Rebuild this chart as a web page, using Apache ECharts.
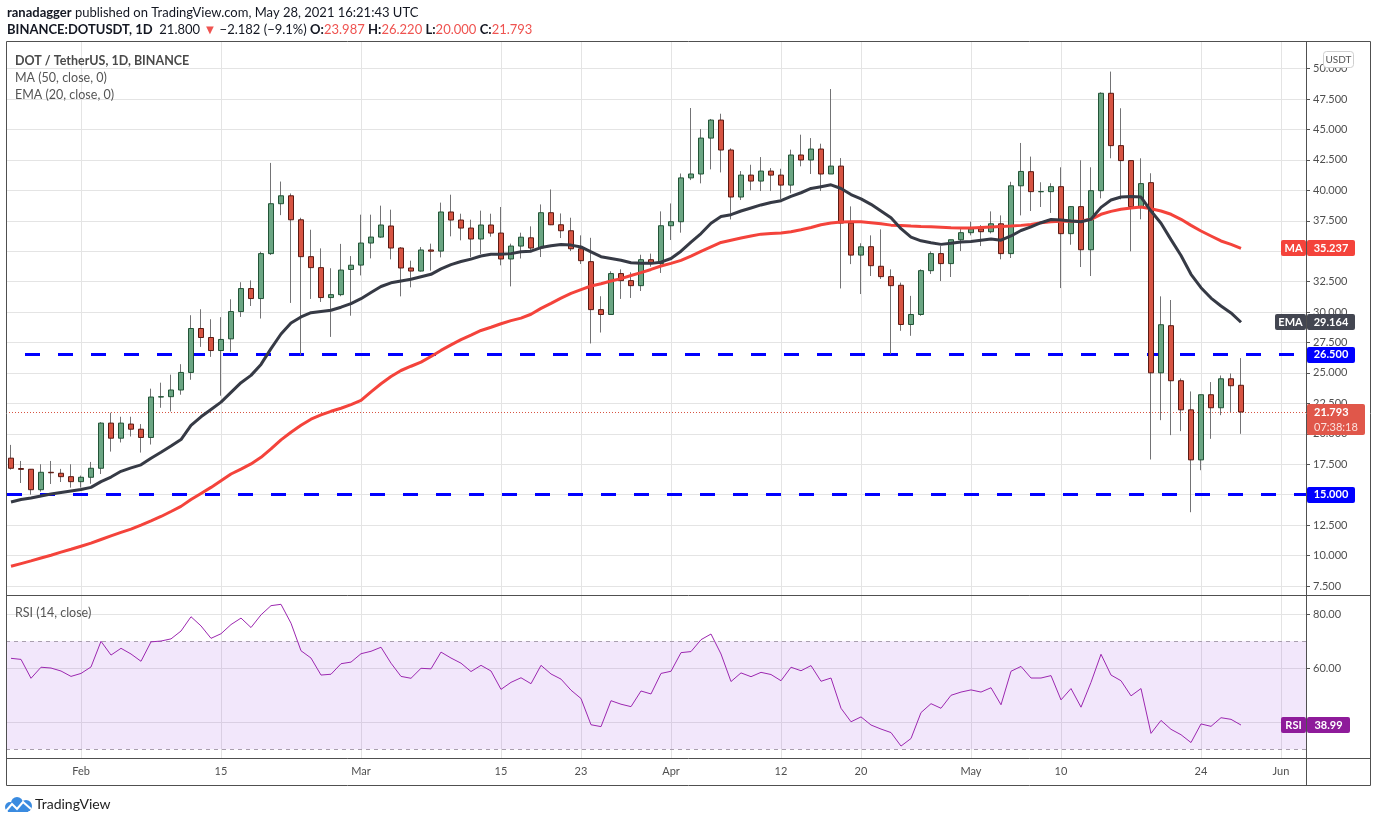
<!DOCTYPE html>
<html>
<head>
<meta charset="utf-8">
<title>DOT / TetherUS, 1D, BINANCE</title>
<script src="https://cdn.jsdelivr.net/npm/echarts@6/dist/echarts.min.js"></script>
<style>
    html, body { margin: 0; padding: 0; background: #fff; }
    #main { width: 1376px; height: 823px; }
</style>
</head>
<body>
<div id="main"></div>
<script>
// DOT/USDT daily candles, 25 Jan - 28 May 2021
var startDay = Date.UTC(2021, 0, 25);
var padDays = 6; // empty days on the right, like the TradingView margin

var opens = [18.0, 17.15, 17.09, 15.41, 16.84, 16.76, 16.48, 16.07, 16.43, 17.17,
    20.88, 19.64, 20.8, 20.38, 19.7, 23.02, 23.05, 23.6, 25.04, 28.65,
    27.91, 26.84, 27.8, 30.04, 31.93, 31.11, 34.8, 38.9, 39.55, 37.58,
    34.55, 33.65, 31.19, 31.43, 33.5, 33.86, 35.67, 36.16, 37.07, 35.26,
    33.62, 33.37, 35.1, 35.01, 38.22, 37.56, 36.9, 36.0, 37.15, 36.49,
    34.36, 35.42, 36.1, 35.26, 38.16, 37.17, 36.68, 35.2, 34.14, 30.2,
    29.8, 33.16, 32.58, 32.17, 34.3, 33.98, 37.09, 37.42, 41.02, 41.34,
    44.29, 45.77, 43.31, 39.45, 41.25, 40.76, 41.58, 41.25, 40.43, 42.9,
    42.49, 43.39, 41.34, 41.99, 37.31, 34.68, 35.37, 33.76, 32.91, 32.2,
    28.98, 29.8, 33.4, 34.8, 33.98, 35.94, 36.52, 36.84, 36.6, 37.25,
    34.8, 40.37, 41.53, 39.88, 39.89, 40.3, 36.44, 38.66, 35.12, 39.97,
    47.97, 43.67, 42.44, 38.66, 40.63, 25.01, 28.88, 24.36, 21.97, 17.86,
    23.21, 22.14, 24.52, 23.987];
var closes = [17.17, 17.08, 15.41, 16.84, 16.8, 16.48, 16.07, 16.43, 17.17, 20.88,
    19.64, 20.88, 20.38, 19.7, 23.02, 23.05, 23.6, 25.04, 28.65, 27.91,
    26.84, 27.75, 30.04, 31.93, 31.11, 34.8, 38.9, 39.55, 37.58, 34.55,
    33.65, 31.19, 31.43, 33.45, 33.85, 35.67, 36.16, 37.15, 35.26, 33.62,
    33.37, 35.1, 35.0, 38.22, 37.56, 36.9, 36.0, 37.15, 36.49, 34.36,
    35.42, 36.15, 35.26, 38.16, 37.17, 36.68, 35.2, 34.22, 30.2, 29.8,
    33.16, 32.58, 32.17, 34.3, 33.98, 37.09, 37.42, 41.02, 41.34, 44.29,
    45.77, 43.31, 39.45, 41.25, 40.76, 41.58, 41.25, 40.43, 42.9, 42.49,
    43.39, 41.34, 41.99, 37.31, 34.68, 35.36, 33.81, 32.91, 32.17, 28.98,
    29.8, 33.4, 34.8, 33.98, 35.94, 36.52, 36.84, 36.6, 37.25, 34.8,
    40.37, 41.55, 39.89, 39.9, 40.3, 36.44, 38.66, 35.12, 39.97, 47.97,
    43.67, 42.44, 38.66, 40.55, 25.01, 28.96, 24.36, 21.97, 17.86, 23.21,
    22.14, 24.52, 23.95, 21.793];
var highs = [19.09, 17.77, 17.1, 17.5, 17.77, 17.12, 17.5, 16.57, 17.69, 20.96,
    21.73, 21.4, 21.4, 20.8, 23.71, 24.2, 24.86, 25.72, 29.74, 30.23,
    29.41, 29.58, 31.05, 32.45, 32.6, 34.96, 42.25, 40.72, 39.74, 37.75,
    36.76, 35.23, 33.6, 35.6, 34.6, 38.0, 38.0, 38.74, 38.41, 35.34,
    34.22, 35.34, 35.62, 38.99, 39.64, 38.08, 37.59, 38.33, 38.08, 38.63,
    35.62, 36.52, 37.04, 38.84, 40.07, 38.1, 37.75, 36.3, 36.1, 31.3,
    33.35, 33.51, 33.27, 34.71, 34.8, 38.27, 38.92, 41.38, 46.76, 45.03,
    45.86, 46.29, 43.45, 41.58, 42.1, 42.73, 41.83, 41.77, 43.34, 44.57,
    44.29, 43.83, 48.32, 42.65, 38.68, 35.65, 36.3, 36.79, 33.51, 32.42,
    31.33, 33.51, 34.99, 35.42, 35.94, 36.87, 37.42, 37.14, 38.27, 37.94,
    40.7, 43.89, 42.77, 40.66, 40.58, 41.89, 38.7, 42.47, 41.89, 48.05,
    49.75, 46.74, 42.44, 42.63, 41.4, 31.29, 30.99, 24.55, 23.48, 23.21,
    24.25, 24.79, 24.96, 26.22];
var lows = [17.06, 15.96, 15.0, 15.25, 15.88, 16.04, 15.58, 15.58, 15.9, 16.7,
    18.54, 19.29, 19.78, 18.46, 19.12, 22.14, 21.84, 23.21, 24.44, 27.14,
    26.32, 23.13, 26.73, 29.6, 30.5, 29.47, 34.69, 37.96, 30.75, 26.46,
    31.08, 30.83, 27.96, 31.3, 29.7, 33.01, 34.41, 36.1, 34.33, 31.29,
    32.03, 33.32, 33.4, 34.49, 36.22, 35.89, 34.49, 34.77, 36.19, 33.84,
    32.11, 34.4, 34.93, 34.52, 37.14, 36.08, 35.01, 33.95, 27.42, 28.32,
    29.77, 31.08, 31.16, 31.73, 33.73, 33.21, 35.92, 36.52, 40.84, 40.57,
    41.72, 41.47, 37.61, 39.2, 40.0, 39.94, 39.94, 39.28, 39.75, 41.97,
    41.34, 39.94, 41.34, 31.94, 33.94, 31.48, 32.96, 32.72, 26.54, 28.46,
    28.05, 29.69, 33.13, 32.55, 32.88, 35.01, 36.3, 35.42, 36.46, 34.33,
    34.44, 37.94, 38.3, 38.63, 38.14, 31.97, 35.53, 33.7, 32.96, 39.34,
    42.63, 39.26, 34.99, 37.62, 17.89, 21.12, 19.89, 20.22, 13.56, 17.01,
    19.59, 21.53, 21.78, 20.0];

// MA (50, close) and EMA (20, close) as drawn on the chart
var ma50 = [9.12, 9.34, 9.56, 9.8, 10.03, 10.28, 10.52, 10.77, 11.02, 11.32,
    11.62, 11.9, 12.17, 12.5, 12.85, 13.21, 13.62, 14.04, 14.6, 15.1,
    15.6, 16.15, 16.7, 17.1, 17.53, 18.07, 18.76, 19.5, 20.13, 20.7,
    21.2, 21.55, 21.85, 22.1, 22.4, 22.74, 23.45, 24.11, 24.7, 25.2,
    25.55, 25.89, 26.35, 26.85, 27.3, 27.73, 28.1, 28.49, 28.75, 29.04,
    29.3, 29.5, 29.82, 30.3, 30.72, 31.15, 31.54, 31.85, 32.14, 32.33,
    32.55, 32.75, 33.0, 33.24, 33.5, 33.78, 34.0, 34.25, 34.6, 34.98,
    35.35, 35.72, 35.9, 36.08, 36.25, 36.4, 36.45, 36.49, 36.6, 36.76,
    36.95, 37.17, 37.31, 37.39, 37.41, 37.42, 37.34, 37.25, 37.14, 37.1,
    37.06, 37.03, 37.01, 36.97, 36.93, 36.9, 36.9, 36.94, 36.98, 37.02,
    37.06, 37.12, 37.2, 37.34, 37.42, 37.45, 37.45, 37.48, 37.62, 38.03,
    38.27, 38.44, 38.55, 38.63, 38.49, 38.3, 38.03, 37.62, 37.12, 36.66,
    36.25, 35.84, 35.56, 35.237];
var ema20 = [14.4, 14.6, 14.73, 14.9, 15.05, 15.18, 15.3, 15.42, 15.6, 16.07,
    16.45, 16.92, 17.2, 17.45, 18.0, 18.49, 19.0, 19.53, 20.7, 21.4,
    22.0, 22.6, 23.4, 24.2, 24.8, 25.7, 27.0, 28.2, 29.1, 29.6,
    29.95, 30.05, 30.15, 30.4, 30.7, 31.1, 31.6, 32.1, 32.4, 32.55,
    32.7, 32.9, 33.1, 33.55, 33.9, 34.15, 34.35, 34.6, 34.75, 34.75,
    34.8, 34.95, 35.0, 35.3, 35.45, 35.55, 35.5, 35.35, 34.95, 34.55,
    34.4, 34.25, 34.05, 34.0, 34.0, 34.1, 34.4, 35.0, 35.75, 36.45,
    37.3, 37.85, 38.0, 38.3, 38.55, 38.8, 39.0, 39.15, 39.5, 39.8,
    40.15, 40.3, 40.45, 40.15, 39.65, 39.3, 38.85, 38.3, 37.75, 36.85,
    36.15, 35.85, 35.7, 35.56, 35.65, 35.75, 35.8, 35.9, 36.0, 35.9,
    36.25, 36.7, 37.0, 37.34, 37.6, 37.56, 37.48, 37.42, 37.62, 38.6,
    39.2, 39.45, 39.5, 39.45, 38.3, 37.3, 35.95, 34.65, 33.1, 32.0,
    31.15, 30.5, 29.93, 29.164];

// RSI (14, close)
var rsi14 = [63.7, 63.3, 56.3, 60.4, 60.1, 59.0, 57.0, 58.1, 60.5, 70.0,
    64.9, 67.4, 65.3, 62.6, 69.8, 70.1, 70.9, 73.8, 79.1, 75.7,
    71.1, 72.8, 76.2, 78.6, 75.1, 79.8, 83.2, 83.7, 76.7, 66.5,
    63.8, 57.5, 57.8, 61.7, 62.3, 65.4, 66.3, 67.8, 61.9, 57.0,
    56.3, 60.0, 59.8, 66.0, 63.8, 61.9, 58.8, 61.1, 59.0, 52.2,
    54.8, 56.5, 54.3, 61.1, 57.9, 56.0, 51.9, 48.8, 39.1, 38.4,
    48.0, 46.7, 45.8, 51.6, 50.5, 58.1, 58.9, 65.8, 66.2, 70.6,
    72.7, 65.3, 55.1, 58.3, 56.9, 58.5, 57.7, 55.4, 60.4, 59.1,
    61.0, 55.2, 56.4, 45.2, 40.2, 42.0, 39.0, 37.5, 36.2, 31.2,
    34.0, 43.6, 46.9, 45.2, 50.0, 51.2, 52.0, 51.2, 52.8, 46.5,
    58.9, 60.7, 56.4, 56.4, 57.3, 48.3, 52.5, 45.6, 54.8, 65.2,
    57.5, 55.4, 49.8, 52.5, 35.9, 40.7, 37.4, 35.4, 32.5, 39.4,
    38.5, 41.7, 41.1, 38.99];

var levels = [26.5, 15.0];                // blue dashed horizontals
var priceTicks = [7.5, 10, 12.5, 15, 17.5, 20, 22.5, 25, 27.5, 30, 32.5, 35, 37.5, 40, 42.5, 45, 47.5, 50];
var rsiTicks = [40, 60, 80];
var rsiBand = [30, 70];
var dateTickIdx = [7, 21, 35, 49, 57, 66, 77, 85, 96, 105, 119, 127];
var dateTickLabels = ['Feb', '15', 'Mar', '15', '23', 'Apr', '12', '20', 'May', '10', '24', 'Jun'];

var FONT = 'Lato, "Open Sans", sans-serif';
var GRID = '#e4e4e4';
var AXIS_TXT = '#4f4f4f';
var UP = '#6ba583', DOWN = '#d75442';

var dates = [];
for (var i = 0; i < opens.length + padDays; i++) {
    dates.push(new Date(startDay + i * 86400000).toISOString().slice(0, 10));
}
var nCat = dates.length;

// full candle for the grey wicks, body-only candle for the coloured boxes
var wickData = opens.map(function (o, i) { return [o, closes[i], lows[i], highs[i]]; });
var bodyData = opens.map(function (o, i) {
    return [o, closes[i], Math.min(o, closes[i]), Math.max(o, closes[i])];
});

var chart = echarts.init(document.getElementById('main'));

function dateLabel(v) {
    var i = dateTickIdx.indexOf(Math.round(v));
    return i < 0 ? '' : dateTickLabels[i];
}

var option = {
    animation: false,
    backgroundColor: '#ffffff',
    textStyle: { fontFamily: FONT },
    grid: [
        { left: 6, top: 41, width: 1300, height: 554, outerBoundsMode: 'none', containLabel: false },
        { left: 6, top: 596, width: 1300, height: 162, outerBoundsMode: 'none', containLabel: false }
    ],
    xAxis: [
        { type: 'category', gridIndex: 0, data: dates, position: 'bottom', show: false, boundaryGap: true,
            axisLine: { onZero: false } },
        {
            type: 'value', gridIndex: 0, position: 'top', min: -0.5, max: nCat - 0.5,
            axisLine: { show: false, onZero: false },
            axisTick: { show: false, customValues: dateTickIdx },
            axisLabel: { show: false, customValues: dateTickIdx },
            splitLine: { show: true, lineStyle: { color: GRID, width: 1 } }
        },
        { type: 'category', gridIndex: 1, data: dates, position: 'top', show: false, boundaryGap: true,
            axisLine: { onZero: false } },
        {
            type: 'value', gridIndex: 1, position: 'bottom', min: -0.5, max: nCat - 0.5,
            axisLine: { show: false, onZero: false },
            axisTick: { show: false, customValues: dateTickIdx },
            axisLabel: {
                customValues: dateTickIdx, formatter: dateLabel, color: AXIS_TXT,
                fontSize: 11, fontFamily: FONT, margin: 8
            },
            splitLine: { show: true, lineStyle: { color: GRID, width: 1 } }
        }
    ],
    yAxis: [
        {
            type: 'value', gridIndex: 0, position: 'right', min: 6.761, max: 52.264,
            axisLine: { show: false, onZero: false },
            axisTick: { show: true, length: 4, customValues: priceTicks, lineStyle: { color: '#555' } },
            axisLabel: {
                customValues: priceTicks, color: AXIS_TXT, fontSize: 11, fontFamily: FONT, margin: 7,
                formatter: function (v) { return v.toFixed(3); }
            },
            splitLine: { show: true, lineStyle: { color: GRID, width: 1 } }
        },
        {
            type: 'value', gridIndex: 1, position: 'right', min: 26.78, max: 86.78,
            axisLine: { show: false, onZero: false },
            axisTick: { show: true, length: 4, customValues: rsiTicks, lineStyle: { color: '#555' } },
            axisLabel: {
                customValues: rsiTicks, color: AXIS_TXT, fontSize: 11, fontFamily: FONT, margin: 7,
                formatter: function (v) { return v.toFixed(2); }
            },
            splitLine: { show: true, lineStyle: { color: GRID, width: 1 } }
        }
    ],
    series: [
        {
            // horizontal levels, kept under the candles
            name: 'levels', type: 'line', xAxisIndex: 0, yAxisIndex: 0, data: [], z: 1,
            markLine: {
                silent: true, symbol: ['none', 'none'], label: { show: false }, z: 1,
                data: [
                    { yAxis: levels[0], lineStyle: { color: '#0000ff', width: 3, type: [15, 18], dashOffset: 14 } },
                    { yAxis: levels[1], lineStyle: { color: '#0000ff', width: 3, type: [15, 18], dashOffset: 32 } },
                    { yAxis: closes[closes.length - 1], lineStyle: { color: DOWN, width: 1, type: [1, 2] } }
                ]
            }
        },
        {
            name: 'wicks', type: 'candlestick', xAxisIndex: 0, yAxisIndex: 0, data: wickData,
            barWidth: 1, z: 6,
            itemStyle: { color: '#737375', color0: '#737375', borderColor: '#737375', borderColor0: '#737375', borderWidth: 1 }
        },
        {
            name: 'DOTUSDT', type: 'candlestick', xAxisIndex: 0, yAxisIndex: 0, data: bodyData,
            barWidth: 6, z: 7,
            itemStyle: { color: UP, color0: DOWN, borderColor: '#225437', borderColor0: '#5b1a13', borderWidth: 1 }
        },
        {
            name: 'MA', type: 'line', xAxisIndex: 0, yAxisIndex: 0, data: ma50, z: 8,
            symbol: 'none', lineStyle: { color: '#f4433b', width: 3 }
        },
        {
            name: 'EMA', type: 'line', xAxisIndex: 0, yAxisIndex: 0, data: ema20, z: 9,
            symbol: 'none', lineStyle: { color: '#363a45', width: 3 }
        },
        {
            name: 'RSI', type: 'line', xAxisIndex: 2, yAxisIndex: 1, data: rsi14, z: 5,
            symbol: 'none', lineStyle: { color: '#9c27b0', width: 1 },
            markArea: {
                silent: true, itemStyle: { color: 'rgba(150, 60, 225, 0.12)' },
                data: [[{ yAxis: rsiBand[0] }, { yAxis: rsiBand[1] }]]
            },
            markLine: {
                silent: true, symbol: ['none', 'none'], label: { show: false },
                lineStyle: { color: '#a99fae', width: 1, type: [4, 4] },
                data: [{ yAxis: rsiBand[1] }, { yAxis: rsiBand[0] }]
            }
        }
    ]
};

chart.setOption(option);

// ---- text, frame and axis badges ----
function txt(x, y, text, font, color, extra) {
    var s = { text: text, font: font, fill: color, textVerticalAlign: 'middle', verticalAlign: 'middle' };
    if (extra) { for (var k in extra) s[k] = extra[k]; }
    return { type: 'text', x: x, y: y, z: 100, style: s };
}
function badge(x, yc, w, h, bg, label) {
    return [
        { type: 'rect', z: 100, shape: { x: x, y: Math.round(yc - h / 2), width: w, height: h, r: 2 }, style: { fill: bg } },
        txt(x + w / 2, yc, label, 'bold 11px ' + FONT, '#fff', { textAlign: 'center', align: 'center' })
    ];
}
function line(x1, y1, x2, y2) {
    return { type: 'line', z: 100, shape: { x1: x1, y1: y1, x2: x2, y2: y2 }, style: { stroke: '#505050', lineWidth: 1 } };
}

var lastMA = ma50[ma50.length - 1];
var lastEMA = ema20[ema20.length - 1];
var lastClose = closes[closes.length - 1];
var lastRSI = rsi14[rsi14.length - 1];
var py = function (v) { return chart.convertToPixel({ yAxisIndex: 0 }, v); };
var ry = function (v) { return chart.convertToPixel({ yAxisIndex: 1 }, v); };

var axisX = 1306;
var els = [];

// frame
els.push({ type: 'rect', z: 100, shape: { x: 6.5, y: 41.5, width: 1364, height: 744 }, style: { fill: 'none', stroke: '#505050', lineWidth: 1 } });
els.push(line(axisX + 0.5, 41, axisX + 0.5, 786));
els.push(line(6, 595.5, 1371, 595.5));
els.push(line(6, 758.5, 1371, 758.5));

// header
els.push(txt(7, 13, '{b|ranadagger} published on TradingView.com, May 28, 2021 16:21:43 UTC', '13px ' + FONT, '#131722', {
    rich: { b: { fontWeight: 'bold', fontSize: 13, fontFamily: FONT, fill: '#131722', color: '#131722' } }
}));
var rich2 = {
    b: { fontWeight: 'bold', fontSize: 13, fontFamily: FONT, fill: '#131722', color: '#131722' },
    r: { fontSize: 13, fontFamily: FONT, fill: '#ef5350', color: '#ef5350' }
};
els.push(txt(7, 30, '{b|BINANCE:DOTUSDT, 1D}  21.800 {r|\u25BC} \u22122.182 (\u22129.1%) {b|O:}{r|23.987} {b|H:}{r|26.220} {b|L:}{r|20.000} {b|C:}{r|21.793}',
    '13px ' + FONT, '#131722', { rich: rich2 }));

// pane legends
els.push(txt(15, 61, 'DOT / TetherUS, 1D, BINANCE', 'bold 12.5px ' + FONT, '#4a4a4a'));
els.push(txt(15, 78, 'MA (50, close, 0)', '12.5px ' + FONT, '#555'));
els.push(txt(15, 95, 'EMA (20, close, 0)', '12.5px ' + FONT, '#555'));
els.push(txt(15, 613, 'RSI (14, close)', '12.5px ' + FONT, '#555'));

// USDT box
els.push({ type: 'rect', z: 100, shape: { x: 1323.5, y: 51.5, width: 30, height: 16, r: 3 }, style: { fill: '#fff', stroke: '#cfcfcf', lineWidth: 1 } });
els.push(txt(1338.5, 60, 'USDT', '10px ' + FONT, '#555', { textAlign: 'center', align: 'center' }));

// right axis badges
els = els.concat(badge(1281, py(lastMA), 25, 16, '#f4433b', 'MA'));
els = els.concat(badge(axisX + 1, py(lastMA), 48, 16, '#f4433b', lastMA.toFixed(3)));
els = els.concat(badge(1275, py(lastEMA), 31, 16, '#434651', 'EMA'));
els = els.concat(badge(axisX + 1, py(lastEMA), 48, 16, '#434651', lastEMA.toFixed(3)));
els = els.concat(badge(axisX + 1, py(levels[0]), 48, 16, '#0000ff', levels[0].toFixed(3)));
els = els.concat(badge(axisX + 1, py(levels[1]), 48, 16, '#0000ff', levels[1].toFixed(3)));
var cy = py(lastClose);
els.push({ type: 'rect', z: 100, shape: { x: axisX + 1, y: Math.round(cy - 8), width: 58, height: 31, r: 2 }, style: { fill: '#e0574a' } });
els.push(txt(axisX + 8, cy, lastClose.toFixed(3), 'bold 11px ' + FONT, '#fff'));
els.push(txt(axisX + 8, cy + 15, '07:38:18', '11px ' + FONT, '#fbe1dd'));
els = els.concat(badge(1281, ry(lastRSI), 25, 16, '#8e1b9a', 'RSI'));
els = els.concat(badge(axisX + 1, ry(lastRSI), 43, 16, '#8e1b9a', lastRSI.toFixed(2)));

// TradingView mark: small blue cloud with a white zigzag
var cloud = '#3a8be0';
els.push({ type: 'circle', z: 100, shape: { cx: 10, cy: 807, r: 5 }, style: { fill: cloud } });
els.push({ type: 'circle', z: 100, shape: { cx: 17, cy: 803, r: 6 }, style: { fill: cloud } });
els.push({ type: 'circle', z: 100, shape: { cx: 26, cy: 806, r: 6 }, style: { fill: cloud } });
els.push({ type: 'rect', z: 100, shape: { x: 8, y: 806, width: 20, height: 6 }, style: { fill: cloud } });
els.push({ type: 'polyline', z: 101, shape: { points: [[6, 811], [12, 804], [17, 809], [23, 802], [31, 809]] }, style: { stroke: '#fff', lineWidth: 2, fill: null } });
els.push(txt(35, 804, 'TradingView', '14px ' + FONT, '#1e1e1e'));

chart.setOption({ graphic: { elements: els } });
</script>
</body>
</html>
